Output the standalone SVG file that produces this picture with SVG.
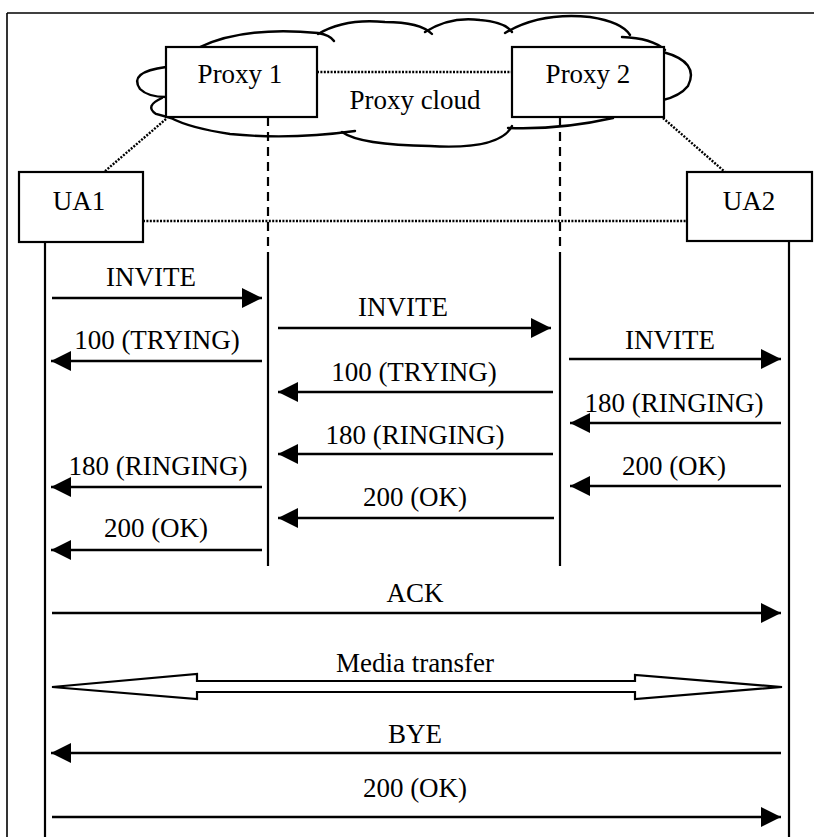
<svg xmlns="http://www.w3.org/2000/svg" width="814" height="837" viewBox="0 0 814 837" font-family="'Liberation Serif', 'DejaVu Serif', serif">
<style>
text{font-family:'Liberation Serif','DejaVu Serif',serif;font-size:27px;fill:#000;text-anchor:middle}
.box{fill:#fff;stroke:#000;stroke-width:2.2}
.dot{fill:none;stroke:#000;stroke-width:2.4;stroke-dasharray:2 1.4}
.msg{stroke:#000;stroke-width:2.4;fill:none}
.life{stroke:#000;stroke-width:2.2;fill:none}
.dash{stroke:#000;stroke-width:2.2;fill:none;stroke-dasharray:9 6}
.cloud{fill:none;stroke:#000;stroke-width:2.4;stroke-linecap:round}
</style>
<defs>
<marker id="ah" viewBox="0 0 20 20" markerWidth="20" markerHeight="20" refX="20" refY="10" orient="auto-start-reverse" markerUnits="userSpaceOnUse">
<path d="M0,0 L20,10 L0,20 z" fill="#000"/>
</marker>
</defs>
<rect width="814" height="837" fill="#fff"/>
<g id="frame">
<line x1="7" y1="13" x2="814" y2="13" stroke="#000" stroke-width="1.6"/>
<line x1="7" y1="13" x2="7" y2="837" stroke="#000" stroke-width="1.6"/>
</g>
<g id="proxy-cloud">
<path class="cloud" d="M200,47 Q245,26 318,33 Q330,35 334,41"/>
<path class="cloud" d="M318,34 Q345,18 385,22 Q420,22 432,34"/>
<path class="cloud" d="M425,32 Q450,16 480,20 Q505,22 512,32"/>
<path class="cloud" d="M505,33 Q540,12 590,17 Q622,22 630,35"/>
<path class="cloud" d="M622,37 Q652,38 665,50"/>
<path class="cloud" d="M663,52 Q700,62 688,86 Q680,96 663,100"/>
<path class="cloud" d="M613,118 Q560,130 508,128"/>
<path class="cloud" d="M512,126 Q500,150 430,146 Q360,145 342,132"/>
<path class="cloud" d="M355,131 Q290,140 230,134 Q190,128 171,118"/>
<path class="cloud" d="M166,67 Q128,72 140,89 Q148,97 166,97"/>
<path class="cloud" d="M162,98 Q144,106 156,114 L171,118"/>
<text x="415" y="109">Proxy cloud</text>
</g>
<g id="connectors">
<line class="dot" x1="317" y1="72" x2="512" y2="72"/>
<line class="dot" x1="166" y1="119" x2="104" y2="172"/>
<line class="dot" x1="663" y1="118" x2="725" y2="172"/>
<line class="dot" x1="143" y1="221" x2="687" y2="221"/>
<line class="dash" x1="268" y1="117" x2="268" y2="255"/>
<line class="life" x1="268" y1="255" x2="268" y2="566"/>
<line class="dash" x1="560" y1="117" x2="560" y2="255"/>
<line class="life" x1="560" y1="255" x2="560" y2="566"/>
<line class="life" x1="45" y1="242" x2="45" y2="837"/>
<line class="life" x1="789" y1="241" x2="789" y2="837"/>
<line class="msg" x1="52" y1="298" x2="262" y2="298" marker-end="url(#ah)"/>
<line class="msg" x1="278" y1="328" x2="551" y2="328" marker-end="url(#ah)"/>
<line class="msg" x1="569" y1="359" x2="781" y2="359" marker-end="url(#ah)"/>
<line class="msg" x1="262" y1="361" x2="51" y2="361" marker-end="url(#ah)"/>
<line class="msg" x1="553" y1="392" x2="278" y2="392" marker-end="url(#ah)"/>
<line class="msg" x1="781" y1="423" x2="570" y2="423" marker-end="url(#ah)"/>
<line class="msg" x1="553" y1="454" x2="278" y2="454" marker-end="url(#ah)"/>
<line class="msg" x1="262" y1="487" x2="51" y2="487" marker-end="url(#ah)"/>
<line class="msg" x1="781" y1="486" x2="570" y2="486" marker-end="url(#ah)"/>
<line class="msg" x1="554" y1="518" x2="278" y2="518" marker-end="url(#ah)"/>
<line class="msg" x1="262" y1="550" x2="51" y2="550" marker-end="url(#ah)"/>
<line class="msg" x1="52" y1="613" x2="781" y2="613" marker-end="url(#ah)"/>
<polygon points="52,687 197,674 197,681 635,681 635,675 782,687 635,699 635,692 197,692 197,699" fill="#fff" stroke="#000" stroke-width="2.2" stroke-linejoin="miter"/>
<line class="msg" x1="781" y1="753" x2="51" y2="753" marker-end="url(#ah)"/>
<line class="msg" x1="52" y1="817" x2="781" y2="817" marker-end="url(#ah)"/>
</g>
<g id="labels" font-family="'Liberation Serif', 'DejaVu Serif', serif">
<text x="151" y="286">INVITE</text>
<text x="403" y="316">INVITE</text>
<text x="670" y="349">INVITE</text>
<text x="157" y="349">100 (TRYING)</text>
<text x="414" y="381">100 (TRYING)</text>
<text x="674" y="412">180 (RINGING)</text>
<text x="415" y="444">180 (RINGING)</text>
<text x="158" y="475">180 (RINGING)</text>
<text x="674" y="475">200 (OK)</text>
<text x="415" y="506">200 (OK)</text>
<text x="156" y="537">200 (OK)</text>
<text x="415" y="602">ACK</text>
<text x="415" y="672">Media transfer</text>
<text x="415" y="743">BYE</text>
<text x="415" y="797">200 (OK)</text>
</g>
<g id="proxy1">
<rect class="box" x="166" y="47" width="151" height="70"/>
<text x="240" y="83">Proxy 1</text>
</g>
<g id="proxy2">
<rect class="box" x="512" y="47" width="152" height="70"/>
<text x="588" y="83">Proxy 2</text>
</g>
<g id="ua1">
<rect class="box" x="19" y="172" width="124" height="70"/>
<text x="79" y="210">UA1</text>
</g>
<g id="ua2">
<rect class="box" x="687" y="172" width="125" height="69"/>
<text x="749" y="210">UA2</text>
</g>
</svg>
